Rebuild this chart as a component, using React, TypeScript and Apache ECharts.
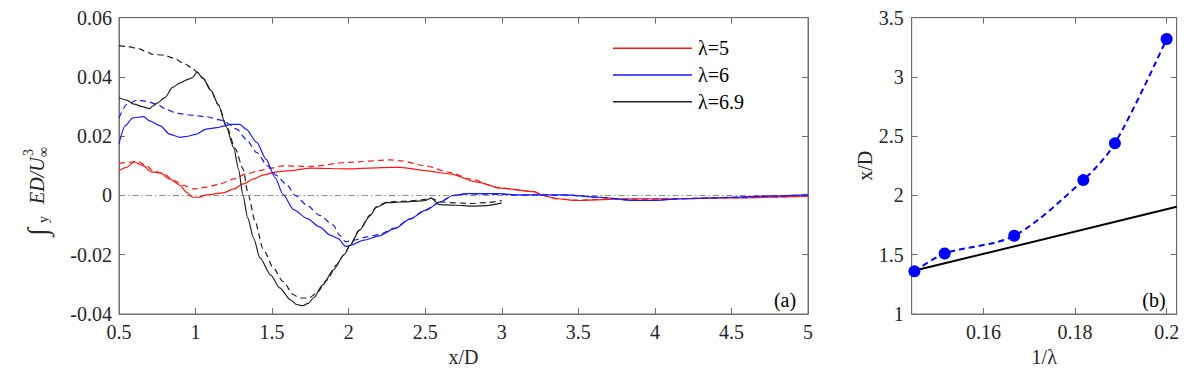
import React, { useEffect, useRef } from "react";
import * as echarts from "echarts";

const FONT = "'Liberation Serif', 'DejaVu Serif', serif";

// ---------- panel (a): x/D vs integrated energy term ----------
const legendNames = ["λ=5", "λ=6", "λ=6.9"];

const red5Solid: [number, number][] = [
  [0.5, 0.0084], [0.55, 0.0095], [0.6, 0.0113], [0.66, 0.01], [0.71, 0.008], [0.77, 0.0076],
  [0.83, 0.0056], [0.9, 0.0034], [0.94, 0.0011], [0.98, -0.0006], [1.02, -0.0006], [1.07, 0.0002],
  [1.18, 0.0009], [1.25, 0.0022], [1.31, 0.0039], [1.38, 0.0056], [1.44, 0.0069], [1.53, 0.008],
  [1.62, 0.0084], [1.75, 0.0092], [2.0, 0.009], [2.27, 0.0095], [2.34, 0.0095], [2.5, 0.0084],
  [2.66, 0.0073], [2.84, 0.0045], [2.99, 0.0025], [3.21, 0.0013], [3.27, 0.0], [3.36, -0.0011],
  [3.49, -0.0017], [3.75, -0.0012], [4.08, -0.0011], [4.51, -0.0008], [5.0, -0.0002],
];
const red5Dashed: [number, number][] = [
  [0.5, 0.0109], [0.57, 0.0112], [0.62, 0.0115], [0.68, 0.01], [0.72, 0.0084], [0.79, 0.0073],
  [0.86, 0.005], [0.92, 0.0034], [0.99, 0.0022], [1.07, 0.0028], [1.16, 0.0039], [1.25, 0.0056],
  [1.33, 0.0073], [1.42, 0.0084], [1.49, 0.0092], [1.57, 0.01], [1.75, 0.0098], [2.0, 0.0112],
  [2.27, 0.012], [2.34, 0.0117], [2.5, 0.01], [2.66, 0.0078], [2.79, 0.0056], [2.99, 0.0025],
  [3.21, 0.0013], [3.27, 0.0], [3.36, -0.0011], [3.49, -0.0016], [3.75, -0.0011], [4.08, -0.0011],
  [4.51, -0.0008], [5.0, -0.0002],
];
const blue6Solid: [number, number][] = [
  [0.5, 0.0175], [0.54, 0.0235], [0.59, 0.0262], [0.66, 0.0266], [0.7, 0.0252], [0.77, 0.0235],
  [0.83, 0.0207], [0.9, 0.0196], [0.94, 0.0199], [1.0, 0.0206], [1.07, 0.0224], [1.14, 0.0229],
  [1.19, 0.0235], [1.23, 0.024], [1.29, 0.024], [1.33, 0.0224], [1.4, 0.0179], [1.46, 0.0123],
  [1.52, 0.006], [1.57, 0.0005], [1.64, -0.0048], [1.73, -0.0078], [1.81, -0.0106], [1.88, -0.0134],
  [1.93, -0.0145], [1.98, -0.0172], [2.01, -0.0168], [2.1, -0.0151], [2.2, -0.0136], [2.3, -0.0112],
  [2.4, -0.008], [2.5, -0.005], [2.6, -0.0022], [2.68, 0.0], [2.77, 0.0006], [2.99, 0.0006],
  [3.1, 0.0002], [3.27, 0.0002], [3.42, 0.0002], [3.64, -0.0006], [3.86, -0.0017], [3.97, -0.0017],
  [4.19, -0.0011], [4.51, -0.0006], [4.73, -0.0002], [5.0, 0.0002],
];
const blue6Dashed: [number, number][] = [
  [0.5, 0.0262], [0.55, 0.0307], [0.62, 0.0322], [0.68, 0.0318], [0.75, 0.0307], [0.81, 0.029],
  [0.88, 0.0277], [0.99, 0.027], [1.07, 0.0266], [1.16, 0.0255], [1.2, 0.0246], [1.27, 0.0224],
  [1.33, 0.019], [1.4, 0.0145], [1.47, 0.01], [1.53, 0.0067], [1.6, 0.0034], [1.65, 0.0],
  [1.73, -0.0034], [1.81, -0.0067], [1.9, -0.01], [1.94, -0.0134], [1.98, -0.0156], [2.03, -0.0151],
  [2.12, -0.014], [2.2, -0.0132], [2.3, -0.011], [2.4, -0.0079], [2.5, -0.0049], [2.6, -0.0021],
  [2.68, 0.0], [2.77, 0.0005], [3.0, 0.0004], [3.1, 0.0001], [3.27, 0.0002], [3.42, 0.0001],
  [3.64, -0.0006], [3.86, -0.0016], [3.97, -0.0016], [4.19, -0.0011], [4.51, -0.0006],
  [4.73, -0.0002], [5.0, 0.0002],
];
const black69Solid: [number, number][] = [
  [0.5, 0.033], [0.55, 0.0322], [0.6, 0.0308], [0.65, 0.03], [0.7, 0.0293], [0.72, 0.0302],
  [0.75, 0.0312], [0.8, 0.033], [0.85, 0.0365], [0.9, 0.038], [0.95, 0.0392], [0.98, 0.0398],
  [1.01, 0.0416], [1.05, 0.0395], [1.1, 0.0355], [1.15, 0.0305], [1.2, 0.0232], [1.25, 0.016],
  [1.28, 0.009], [1.31, 0.0], [1.34, -0.0075], [1.38, -0.0145], [1.42, -0.021], [1.49, -0.0268],
  [1.55, -0.0312], [1.62, -0.0352], [1.66, -0.0368], [1.7, -0.0372], [1.74, -0.0363], [1.77, -0.0346],
  [1.83, -0.0302], [1.9, -0.0251], [1.97, -0.02], [2.01, -0.0168], [2.07, -0.0118], [2.14, -0.0068],
  [2.18, -0.004], [2.25, -0.0024], [2.35, -0.0022], [2.45, -0.0019], [2.5, -0.0017], [2.54, -0.0009],
  [2.59, -0.0031], [2.7, -0.0033], [2.8, -0.0036], [2.9, -0.0034], [3.0, -0.0025],
];
const black69Dashed: [number, number][] = [
  [0.5, 0.0506], [0.55, 0.0503], [0.62, 0.0497], [0.68, 0.0486], [0.72, 0.0476], [0.79, 0.0474],
  [0.86, 0.0463], [0.92, 0.0447], [0.98, 0.043], [1.01, 0.0416], [1.05, 0.0395], [1.1, 0.0355],
  [1.15, 0.0305], [1.2, 0.0238], [1.26, 0.0157], [1.31, 0.009], [1.345, 0.0], [1.39, -0.0089],
  [1.44, -0.0179], [1.51, -0.0246], [1.57, -0.029], [1.64, -0.0335], [1.68, -0.0346], [1.74, -0.0346],
  [1.79, -0.033], [1.86, -0.0285], [1.92, -0.0235], [1.97, -0.02], [2.01, -0.0166], [2.07, -0.0116],
  [2.14, -0.0066], [2.18, -0.0038], [2.25, -0.0022], [2.35, -0.002], [2.45, -0.0016], [2.54, -0.001],
  [2.6, -0.0022], [2.7, -0.0025], [2.8, -0.0027], [2.9, -0.0024], [3.0, -0.0017],
];
const zeroLine: [number, number][] = [[0.5, 0], [5, 0]];

// ---------- panel (b): x/D vs 1/λ ----------
const invLambda = [0.1449, 0.1515, 0.1667, 0.1818, 0.1887, 0.2];
const crossX = [1.36, 1.51, 1.66, 2.13, 2.44, 3.32];
const theoryInvLambda = [0.1443, 0.2022];
const theoryX = [1.36, 1.905];
const xTicksB = [0.16, 0.18, 0.2];

const RED = "#ff1a1a";
const BLUE = "#1a1aff";
const BLACK = "#222222";
const AXIS = "#6e6e6e";
const LABEL = "#262626";

export default function App() {
  const ref = useRef<HTMLDivElement>(null);
  useEffect(() => {
    document.body.style.margin = "0";
    if (!ref.current) return;
    const chart = echarts.init(ref.current, undefined, { renderer: "svg" });

    const axisLine = { show: true, onZero: false, lineStyle: { color: AXIS, width: 1 } };
    const tick = { show: true, inside: true, length: 6, lineStyle: { color: AXIS } };
    const labelStyle = { color: LABEL, fontFamily: FONT, fontSize: 20 };
    const nameStyle = { color: LABEL, fontFamily: FONT, fontSize: 20 };

    const lineSeries = (name: string, data: [number, number][], color: string, dashed: boolean) => ({
      type: "line",
      name,
      data,
      xAxisIndex: 0,
      yAxisIndex: 0,
      symbol: "none",
      smooth: 0.25,
      smoothMonotone: "x",
      lineStyle: { color, width: 1.2, type: dashed ? [6, 4] : "solid" },
      itemStyle: { color },
      z: 3,
    });

    const gridBox = { show: true, borderColor: AXIS, borderWidth: 1, backgroundColor: "transparent", containLabel: false };

    const option: any = {
      animation: false,
      backgroundColor: "#ffffff",
      textStyle: { fontFamily: FONT },
      grid: [
        { ...gridBox, left: 119, right: 388, top: 17.7, bottom: 56 },
        { ...gridBox, left: 911.7, right: 19.3, top: 17.7, bottom: 56 },
      ],
      legend: {
        data: legendNames,
        orient: "vertical",
        left: 608,
        top: 33.3,
        icon: "rect",
        itemWidth: 79,
        itemHeight: 1.6,
        itemGap: 6.7,
        itemStyle: { borderWidth: 0 },
        textStyle: { color: "#000", fontFamily: FONT, fontSize: 20, lineHeight: 20, padding: [0, 0, 0, 1] },
        selectedMode: false,
      },
      xAxis: [
        {
          type: "value", gridIndex: 0, min: 0.5, max: 5, interval: 0.5, position: "bottom",
          name: "x/D", nameLocation: "middle", nameGap: 33, nameTextStyle: nameStyle,
          axisLine, axisTick: tick, splitLine: { show: false },
          axisLabel: { ...labelStyle, margin: 8 },
        },
        {
          type: "value", gridIndex: 0, min: 0.5, max: 5, interval: 0.5, position: "top",
          axisLine, axisTick: tick, splitLine: { show: false }, axisLabel: { show: false },
        },
        {
          type: "value", gridIndex: 1, min: 0.1443, max: 0.2022, position: "bottom",
          name: "1/λ", nameLocation: "middle", nameGap: 33, nameTextStyle: nameStyle,
          axisLine, axisTick: { ...tick, customValues: xTicksB }, splitLine: { show: false },
          axisLabel: { ...labelStyle, margin: 8, customValues: xTicksB },
        },
        {
          type: "value", gridIndex: 1, min: 0.1443, max: 0.2022, position: "top",
          axisLine, axisTick: { ...tick, customValues: xTicksB }, splitLine: { show: false },
          axisLabel: { show: false, customValues: xTicksB },
        },
      ],
      yAxis: [
        {
          type: "value", gridIndex: 0, min: -0.04, max: 0.06, interval: 0.02, position: "left",
          axisLine, axisTick: tick, splitLine: { show: false },
          axisLabel: { ...labelStyle, margin: 7 },
        },
        {
          type: "value", gridIndex: 0, min: -0.04, max: 0.06, interval: 0.02, position: "right",
          axisLine, axisTick: tick, splitLine: { show: false }, axisLabel: { show: false },
        },
        {
          type: "value", gridIndex: 1, min: 1, max: 3.5, interval: 0.5, position: "left",
          name: "x/D", nameLocation: "middle", nameGap: 34, nameRotate: 90, nameTextStyle: nameStyle,
          axisLine, axisTick: tick, splitLine: { show: false },
          axisLabel: { ...labelStyle, margin: 8 },
        },
        {
          type: "value", gridIndex: 1, min: 1, max: 3.5, interval: 0.5, position: "right",
          axisLine, axisTick: tick, splitLine: { show: false }, axisLabel: { show: false },
        },
      ],
      series: [
        {
          type: "line", name: "zero", data: zeroLine, xAxisIndex: 0, yAxisIndex: 0, symbol: "none",
          lineStyle: { color: "#8c8c8c", width: 1, type: [6, 3, 1.5, 3] }, z: 2,
        },
        lineSeries("λ=5", red5Solid, RED, false),
        lineSeries("λ=5 dashed", red5Dashed, RED, true),
        lineSeries("λ=6", blue6Solid, BLUE, false),
        lineSeries("λ=6 dashed", blue6Dashed, BLUE, true),
        lineSeries("λ=6.9", black69Solid, BLACK, false),
        lineSeries("λ=6.9 dashed", black69Dashed, BLACK, true),
        {
          type: "line", name: "theory", xAxisIndex: 2, yAxisIndex: 2,
          data: theoryInvLambda.map((v, i) => [v, theoryX[i]]),
          symbol: "none", lineStyle: { color: "#000", width: 2 }, z: 3,
        },
        {
          type: "line", name: "measured", xAxisIndex: 2, yAxisIndex: 2,
          data: invLambda.map((v, i) => [v, crossX[i]]),
          smooth: 0.3,
          symbol: "circle", symbolSize: 12, showSymbol: true,
          itemStyle: { color: "#0000ff" },
          lineStyle: { color: "#0000ff", width: 2, type: [6, 4] }, z: 4,
        },
      ],
      graphic: [
        {
          type: "group", x: 37, y: 238, rotation: Math.PI / 2, silent: true,
          children: [
            { type: "text", x: 2, y: 0, style: { text: "∫", fontFamily: FONT, fontSize: 28, fill: LABEL, verticalAlign: "middle", align: "left" } },
            { type: "text", x: 15, y: 6, style: { text: "y", fontFamily: FONT, fontSize: 14, fill: LABEL, verticalAlign: "middle", align: "left" } },
            { type: "text", x: 34, y: 0, style: { text: "ED/U", fontFamily: FONT, fontStyle: "italic", fontSize: 20, fill: LABEL, verticalAlign: "middle", align: "left" } },
            { type: "text", x: 82, y: -9, style: { text: "3", fontFamily: FONT, fontSize: 14, fill: LABEL, verticalAlign: "middle", align: "left" } },
            { type: "text", x: 81, y: 6, style: { text: "∞", fontFamily: FONT, fontSize: 14, fill: LABEL, verticalAlign: "middle", align: "left" } },
          ],
        },
        { type: "text", x: 785, y: 300, silent: true, style: { text: "(a)", fontFamily: FONT, fontSize: 20, fill: "#000", align: "center", verticalAlign: "middle" } },
        { type: "text", x: 1154, y: 300, silent: true, style: { text: "(b)", fontFamily: FONT, fontSize: 20, fill: "#000", align: "center", verticalAlign: "middle" } },
      ],
    };
    chart.setOption(option);
    return () => chart.dispose();
  }, []);
  return <div ref={ref} style={{ width: 1196, height: 372 }} />;
}
